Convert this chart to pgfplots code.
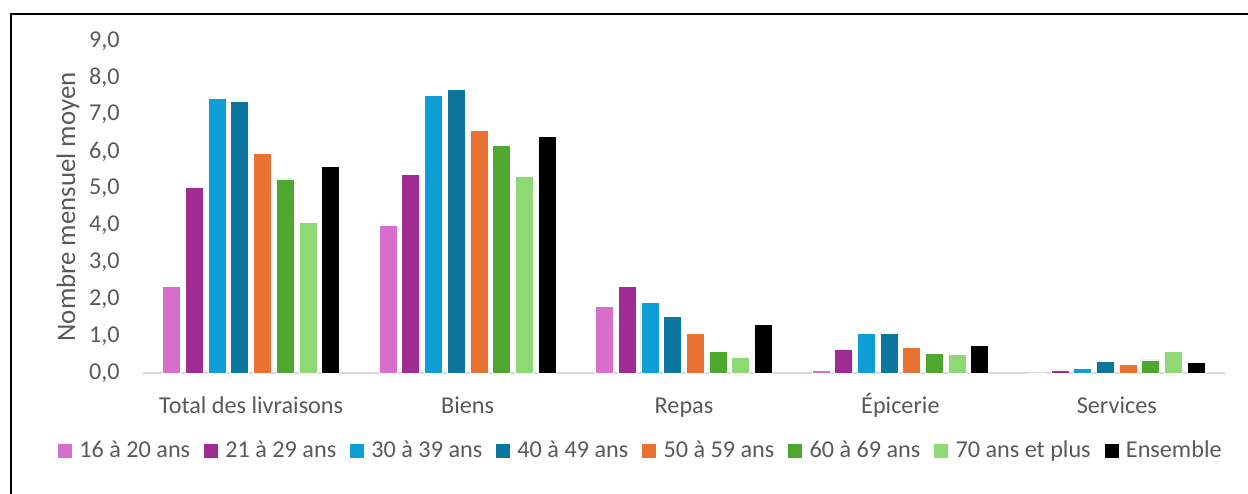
\documentclass[border=0pt]{standalone}
\usepackage{pgfplots}
\pgfplotsset{compat=1.18}
\usepackage{fontspec}
\setmainfont{Carlito}

\definecolor{cpink}{HTML}{D86ECC}
\definecolor{cmag}{HTML}{A02B93}
\definecolor{ccyan}{HTML}{0F9ED5}
\definecolor{cteal}{HTML}{0C769E}
\definecolor{corange}{HTML}{E97132}
\definecolor{cgreen}{HTML}{4EA72E}
\definecolor{clight}{HTML}{8ED973}
\definecolor{ctext}{HTML}{595959}
\definecolor{caxis}{HTML}{D9D9D9}

\newcommand{\tickfont}{\fontsize{12.1pt}{14pt}\selectfont}

\begin{document}
\begin{tikzpicture}
\path[use as bounding box] (0,0) rectangle (624pt,246.5pt);
\draw[line width=1pt] (5.5pt,-2pt) -- (5.5pt,239.5pt) -- (626pt,239.5pt);
\begin{axis}[
    at={(71.5pt,59.85pt)}, anchor=south west,
    scale only axis,
    width=541pt, height=166.3pt,
    ybar=2.35pt, bar width=9pt,
    xmin=-0.5, xmax=4.5,
    ymin=0, ymax=9,
    ytick={0,1,...,9},
    xtick=data,
    xticklabels={Total des livraisons, Biens, Repas, Épicerie, Services},
    major tick length=0pt,
    axis x line*=bottom,
    axis y line*=left,
    x axis line style={caxis, line width=1pt, -},
    y axis line style={draw=none},
    tick label style={font=\tickfont, text=ctext},
    yticklabel style={anchor=east, inner sep=0pt, xshift=-11.5pt},
    xticklabel style={anchor=base, inner sep=0pt, yshift=-20pt},
    /pgf/number format/.cd, fixed, fixed zerofill, precision=1, use comma, assume math mode=true,
    /pgfplots/.cd,
    ylabel={Nombre mensuel moyen},
    every axis y label/.style={at={(axis description cs:-0.0693,0.5)}, anchor=center, rotate=90, font=\fontsize{13.4pt}{15pt}\selectfont, text=ctext},
    legend columns=-1,
    legend style={at={(axis description cs:0.461,-0.2336)}, anchor=center, draw=none, fill=none,
        font=\tickfont, text=ctext, /tikz/every even column/.append style={column sep=4.9pt}},
    legend image code/.code={\fill[#1,draw=none] (0pt,-3.5pt) rectangle (7pt,3.5pt); \path (8.5pt,0pt);},
    every axis plot/.append style={draw=white, line width=0.4pt},
]
\addplot[fill=cpink] coordinates {(0,2.34) (1,3.99) (2,1.82) (3,0.07) (4,0.0)};
\addlegendentry{16 à 20 ans}
\addplot[fill=cmag] coordinates {(0,5.04) (1,5.37) (2,2.36) (3,0.65) (4,0.09)};
\addlegendentry{21 à 29 ans}
\addplot[fill=ccyan] coordinates {(0,7.44) (1,7.53) (2,1.91) (3,1.07) (4,0.14)};
\addlegendentry{30 à 39 ans}
\addplot[fill=cteal] coordinates {(0,7.36) (1,7.69) (2,1.53) (3,1.08) (4,0.33)};
\addlegendentry{40 à 49 ans}
\addplot[fill=corange] coordinates {(0,5.96) (1,6.58) (2,1.07) (3,0.70) (4,0.24)};
\addlegendentry{50 à 59 ans}
\addplot[fill=cgreen] coordinates {(0,5.26) (1,6.17) (2,0.58) (3,0.54) (4,0.36)};
\addlegendentry{60 à 69 ans}
\addplot[fill=clight] coordinates {(0,4.07) (1,5.33) (2,0.44) (3,0.51) (4,0.58)};
\addlegendentry{70 ans et plus}
\addplot[fill=black] coordinates {(0,5.59) (1,6.40) (2,1.31) (3,0.75) (4,0.30)};
\addlegendentry{Ensemble}
\end{axis}
\end{tikzpicture}
\end{document}
